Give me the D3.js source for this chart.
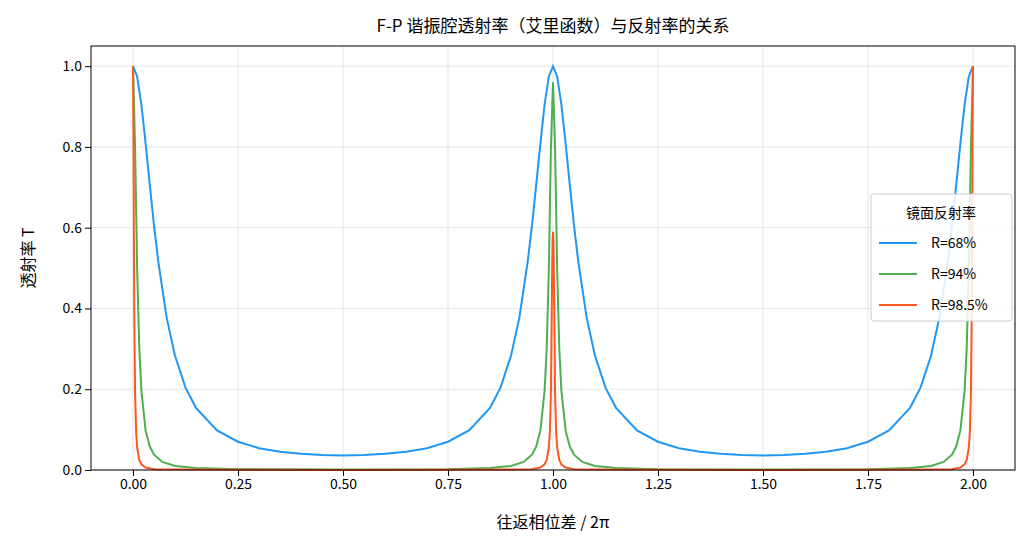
<!DOCTYPE html>
<html><head><meta charset="utf-8">
<script src="https://cdn.jsdelivr.net/npm/d3@7"></script>
<style>body{margin:0;background:#fff;font-family:"Noto Sans CJK SC","DejaVu Sans",sans-serif}</style>
</head><body><svg id="chart" width="1036" height="554"></svg>
<script>
// values
let xBlue = [0,.01,.02,.03,.04,.05,.06,.08,.1,.125,.15,.2,.25,.3,.35,.4,.45,.5,.55,.6,.65,.7,.75,.8,.85,.875,.9,.92,.94,.95,.96,.97,.98,.99,1,
  1.01,1.02,1.03,1.04,1.05,1.06,1.08,1.1,1.125,1.15,1.2,1.25,1.3,1.35,1.4,1.45,1.5,1.55,1.6,1.65,1.7,1.75,1.8,1.85,1.875,1.9,1.92,1.94,1.95,1.96,1.97,1.98,1.99,2]
let yBlue = [1,.974,.905,.809,.706,.606,.518,.378,.283,.204,.154,.098,.070,.054,.045,.040,.037,.036,.037,.040,.045,.054,.070,.098,.154,.204,.283,.378,.518,.606,.706,.809,.905,.974,1,
  .974,.905,.809,.706,.606,.518,.378,.283,.204,.154,.098,.070,.054,.045,.040,.037,.036,.037,.040,.045,.054,.070,.098,.154,.204,.283,.378,.518,.606,.706,.809,.905,.974,1]
let xGreen = [0,.005,.01,.015,.02,.03,.04,.05,.07,.1,.15,.25,.5,.75,.85,.9,.93,.95,.96,.97,.98,.985,.99,.995,1,
  1.005,1.01,1.015,1.02,1.03,1.04,1.05,1.07,1.1,1.15,1.25,1.5,1.75,1.85,1.9,1.93,1.95,1.96,1.97,1.98,1.985,1.99,1.995,2]
let yGreen = [1,.795,.493,.301,.196,.098,.058,.038,.020,.010,.005,.002,.001,.002,.005,.010,.020,.038,.058,.098,.196,.301,.493,.795,.96,
  .795,.493,.301,.196,.098,.058,.038,.020,.010,.005,.002,.001,.002,.005,.010,.020,.038,.058,.098,.196,.301,.493,.795,1]
let xRed = [0,.001,.002,.003,.005,.0075,.01,.015,.02,.03,.05,.1,.5,.9,.95,.97,.98,.985,.99,.9925,.995,.997,.998,.999,1,
  1.001,1.002,1.003,1.005,1.0075,1.01,1.015,1.02,1.03,1.05,1.1,1.5,1.9,1.95,1.97,1.98,1.985,1.99,1.9925,1.995,1.997,1.998,1.999,2]
let yRed = [1,.853,.591,.391,.188,.093,.055,.025,.014,.006,.002,.001,0,.001,.002,.006,.014,.025,.055,.093,.188,.391,.5,.57,.59,
  .57,.5,.391,.188,.093,.055,.025,.014,.006,.002,.001,0,.001,.002,.006,.014,.025,.055,.093,.188,.391,.591,.853,1]
let seriesNames = ['R=68%','R=94%','R=98.5%']
let seriesColors = ['#2196F3','#4CAF50','#FF5722']
let xTicks = [0,.25,.5,.75,1,1.25,1.5,1.75,2]
let yTicks = [0,.2,.4,.6,.8,1]

let svg = d3.select('#chart')
let mLeft = 91, mRight = 1015, mTop = 46, mBottom = 470
let x = d3.scaleLinear().domain([-0.1,2.1]).range([mLeft,mRight])
let y = d3.scaleLinear().domain([0,1.05]).range([mBottom,mTop])

// grid
svg.append('g').selectAll('line').data(xTicks).enter().append('line')
  .attr('x1',d=>x(d)).attr('x2',d=>x(d)).attr('y1',mTop).attr('y2',mBottom)
  .attr('stroke','#000').attr('stroke-opacity',0.1)
svg.append('g').selectAll('line').data(yTicks).enter().append('line')
  .attr('y1',d=>y(d)).attr('y2',d=>y(d)).attr('x1',mLeft).attr('x2',mRight)
  .attr('stroke','#000').attr('stroke-opacity',0.1)

let xs = [xBlue,xGreen,xRed], ys = [yBlue,yGreen,yRed]
let line = d3.line().x(d=>x(d[0])).y(d=>y(d[1]))
let plot = svg.append('g')
xs.forEach((xx,i)=>{
  plot.append('path').attr('d', line(xx.map((v,j)=>[v,ys[i][j]])))
    .attr('fill','none').attr('stroke',seriesColors[i]).attr('stroke-width',2)
})

let xAxis = svg.append('g').attr('transform',`translate(0,${mBottom})`)
  .call(d3.axisBottom(x).tickValues(xTicks).tickFormat(d3.format('.2f')).tickSizeOuter(0))
let yAxis = svg.append('g').attr('transform',`translate(${mLeft},0)`)
  .call(d3.axisLeft(y).tickValues(yTicks).tickFormat(d3.format('.1f')).tickSizeOuter(0))
;[xAxis,yAxis].forEach(a=>{
  a.selectAll('text').style('font-size','14px').style('font-family','"Noto Sans CJK SC"').attr('fill','#000')
  a.select('.domain').remove()
})
svg.append('rect').attr('x',mLeft).attr('y',mTop).attr('width',mRight-mLeft).attr('height',mBottom-mTop)
  .attr('fill','none').attr('stroke','#000').attr('stroke-width',1)

svg.append('text').attr('x',(mLeft+mRight)/2).attr('y',32).attr('text-anchor','middle')
  .style('font-size','17px').text('F-P 谐振腔透射率（艾里函数）与反射率的关系')
svg.append('text').attr('x',(mLeft+mRight)/2).attr('y',528).attr('text-anchor','middle')
  .style('font-size','16px').text('往返相位差 / 2π')
svg.append('text').attr('transform','translate(34,258) rotate(-90)').attr('text-anchor','middle')
  .style('font-size','16px').text('透射率 T')

// legend
let lg = svg.append('g').attr('transform','translate(871,194)')
lg.append('rect').attr('width',141).attr('height',127).attr('rx',3)
  .attr('fill','#fff').attr('fill-opacity',0.85).attr('stroke','#ccc')
lg.append('text').attr('x',70).attr('y',24).attr('text-anchor','middle').style('font-size','14px').text('镜面反射率')
seriesNames.forEach((n,i)=>{
  let yy = 49 + i*31
  lg.append('line').attr('x1',8).attr('x2',46).attr('y1',yy).attr('y2',yy)
    .attr('stroke',seriesColors[i]).attr('stroke-width',2)
  lg.append('text').attr('x',60).attr('y',yy+5).style('font-size','14px').text(n)
})
</script></body></html>
